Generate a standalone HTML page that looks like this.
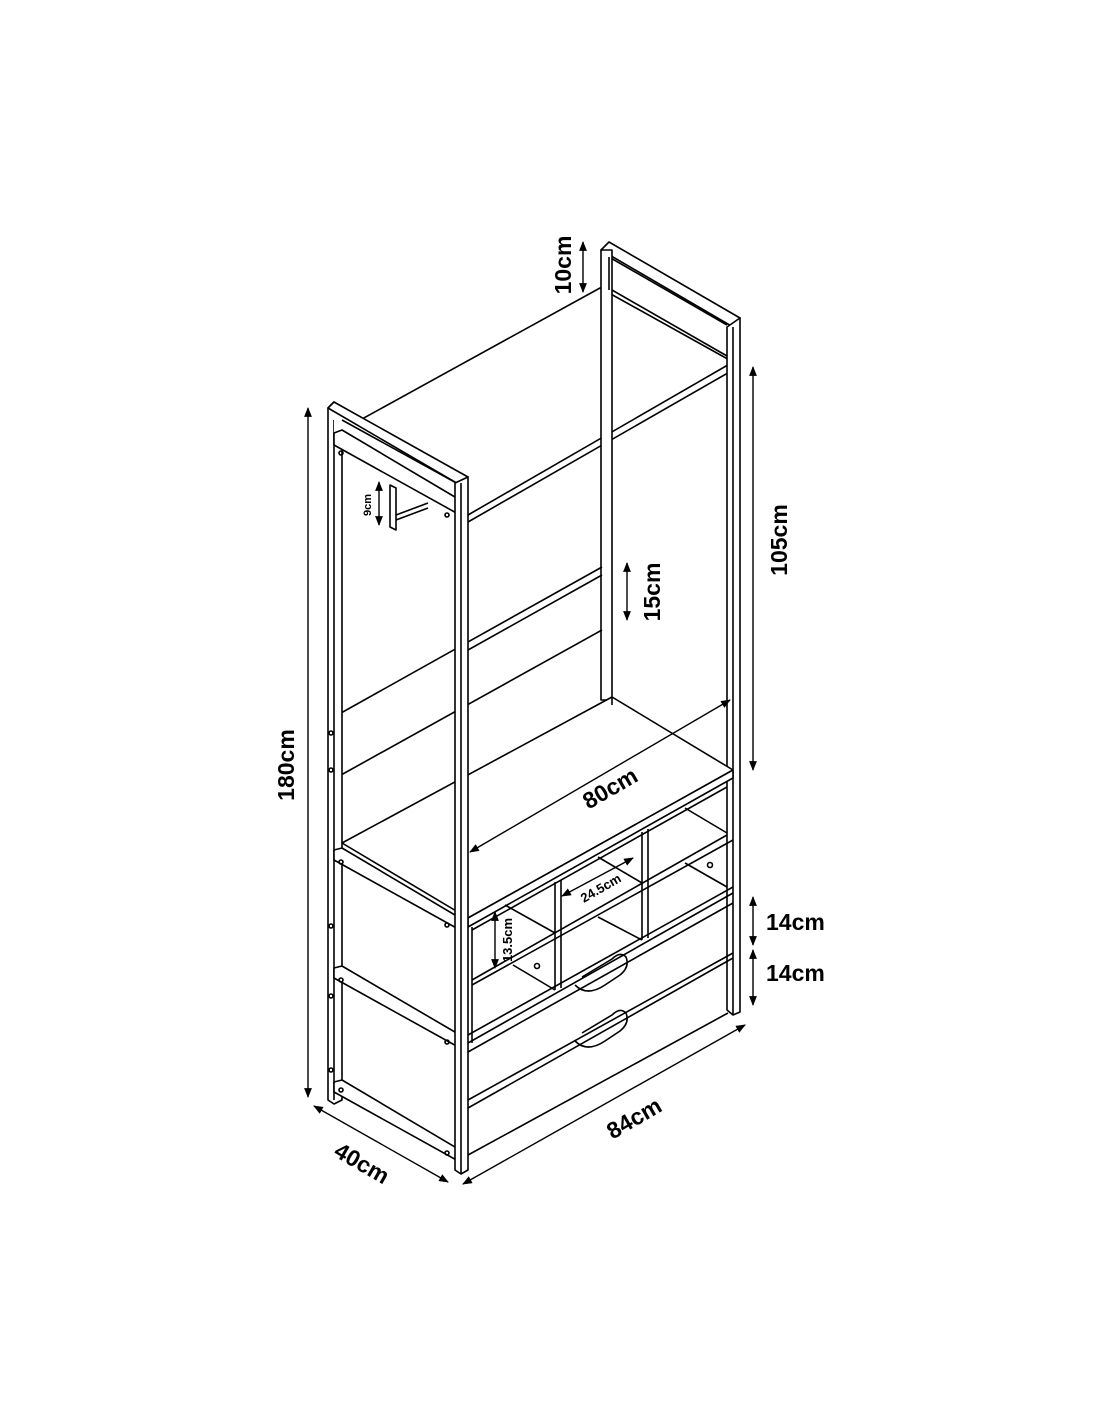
<!DOCTYPE html>
<html><head><style>
html,body{margin:0;padding:0;background:#fff;}
svg{display:block;}
text{font-family:"Liberation Sans",sans-serif;font-weight:bold;fill:#000;}
</style></head><body>
<svg width="1100" height="1422" viewBox="0 0 1100 1422" xmlns="http://www.w3.org/2000/svg">
<defs>
<marker id="a" viewBox="0 0 10 10" refX="9" refY="5" markerWidth="7" markerHeight="7" orient="auto-start-reverse"><path d="M0,1 L10,5 L0,9 z" fill="#000"/></marker>
</defs>
<g fill="none" stroke="#000" stroke-width="1.6" stroke-linejoin="round">
<!-- top shelf -->
<polygon points="342,430 600,288 733,362 468,515" fill="#fff"/>
<line x1="468" y1="522" x2="733" y2="370"/>
<!-- right top frame -->
<polygon points="601,250 609,242 740,318 733,327" />
<line x1="609" y1="257" x2="727" y2="325"/>
<line x1="612" y1="290" x2="727" y2="356"/>
<!-- back right post -->
<rect x="601" y="250" width="11" height="450" fill="#fff"/>
<line x1="609" y1="257" x2="609" y2="290"/>
<!-- front right post -->
<polygon points="727,327 740,318 740,1012 733,1015 727,1010" fill="#fff"/>
<line x1="733" y1="327" x2="733" y2="1015"/>
<!-- back board 15cm -->
<line x1="341" y1="713" x2="602" y2="567"/>
<line x1="341" y1="775" x2="602" y2="630"/>
<line x1="468" y1="650" x2="602" y2="575"/>
<!-- mid shelf -->
<polygon points="342,843 612,697 733,770 468,918" fill="#fff"/>
<polygon points="468,918 733,770 733,778 468,927" fill="#fff"/>
<line x1="612" y1="697" x2="612" y2="705"/>
<!-- cubby unit -->
<line x1="472" y1="927" x2="472" y2="1043"/>
<line x1="468" y1="1043" x2="733" y2="893"/>
<line x1="468" y1="1035" x2="733" y2="887"/>
<line x1="472" y1="985" x2="733" y2="840"/>
<line x1="472" y1="980" x2="727" y2="835"/>
<line x1="472" y1="930" x2="727" y2="787"/>
<line x1="555" y1="882" x2="555" y2="990"/>
<line x1="561" y1="880" x2="561" y2="988"/>
<line x1="642" y1="832" x2="642" y2="940"/>
<line x1="648" y1="829" x2="648" y2="938"/>
<line x1="505" y1="905" x2="555" y2="933"/>
<line x1="513" y1="965" x2="555" y2="990"/>
<line x1="598" y1="857" x2="642" y2="883"/>
<line x1="598" y1="917" x2="642" y2="940"/>
<line x1="685" y1="808" x2="727" y2="833"/>
<line x1="685" y1="863" x2="727" y2="887"/>
<circle cx="537" cy="966" r="2.5"/>
<circle cx="710" cy="865" r="2.5"/>
<!-- drawers -->
<line x1="468" y1="1052" x2="733" y2="903"/>
<line x1="468" y1="1100" x2="733" y2="953"/>
<line x1="468" y1="1108" x2="733" y2="958"/>
<line x1="468" y1="1155" x2="728" y2="1013"/>
<path d="M575,985 q12,12 30,0 l15,-10 q10,-8 6,-18 q-6,-6 -14,2 l-30,18" />
<path d="M575,1041 q12,12 30,0 l15,-10 q10,-8 6,-18 q-6,-6 -14,2 l-30,18" />
<!-- left back post -->
<polygon points="328,408 334,402 342,410 342,1100 334,1104 328,1100" fill="#fff"/>
<line x1="334" y1="420" x2="334" y2="1100"/>
<!-- left top frame -->
<polygon points="328,408 334,402 468,477 460,485 460,516 334,446 334,420" fill="#fff" stroke="none"/>
<polygon points="328,408 334,402 468,477 460,485" fill="#fff"/>
<line x1="342" y1="420" x2="460" y2="485"/>
<polygon points="334,433 342,430 460,500 460,515 334,445" fill="#fff"/>
<polygon points="334,850 342,848 460,918 460,930 334,860" fill="#fff"/>
<polygon points="334,968 342,966 460,1035 460,1048 334,978" fill="#fff"/>
<polygon points="334,1082 342,1080 460,1150 460,1162 334,1092" fill="#fff"/>
<!-- 9cm hook bracket -->
<polygon points="390,485 396,488 396,530 390,527" fill="#fff"/>
<line x1="396" y1="515" x2="428" y2="503"/>
<line x1="396" y1="520" x2="428" y2="508"/>
<!-- front left post -->
<polygon points="455,483 468,477 468,1170 461,1174 455,1170" fill="#fff"/>
<line x1="461" y1="483" x2="461" y2="1174"/>
<!-- screws -->
<circle cx="341" cy="453" r="2"/><circle cx="447" cy="515" r="2"/>
<circle cx="331" cy="733" r="2"/><circle cx="331" cy="770" r="2"/>
<circle cx="341" cy="862" r="2"/><circle cx="447" cy="925" r="2"/>
<circle cx="341" cy="980" r="2"/><circle cx="447" cy="1042" r="2"/>
<circle cx="331" cy="996" r="2"/><circle cx="331" cy="1070" r="2"/>
<circle cx="341" cy="1090" r="2"/><circle cx="447" cy="1153" r="2"/>
<circle cx="331" cy="926" r="2"/>
</g>
<!-- dimension lines -->
<g stroke="#000" stroke-width="1.4" fill="none">
<line x1="308" y1="408" x2="308" y2="1097" marker-start="url(#a)" marker-end="url(#a)"/>
<line x1="753" y1="367" x2="753" y2="770" marker-start="url(#a)" marker-end="url(#a)"/>
<line x1="583" y1="242" x2="583" y2="292" marker-start="url(#a)" marker-end="url(#a)"/>
<line x1="627" y1="563" x2="627" y2="620" marker-start="url(#a)" marker-end="url(#a)"/>
<line x1="379" y1="482" x2="379" y2="525" marker-start="url(#a)" marker-end="url(#a)"/>
<line x1="470" y1="852" x2="730" y2="700" marker-start="url(#a)" marker-end="url(#a)"/>
<line x1="562" y1="896" x2="633" y2="858" marker-start="url(#a)" marker-end="url(#a)"/>
<line x1="495" y1="912" x2="495" y2="968" marker-start="url(#a)" marker-end="url(#a)"/>
<line x1="753" y1="897" x2="753" y2="945" marker-start="url(#a)" marker-end="url(#a)"/>
<line x1="753" y1="950" x2="753" y2="1005" marker-start="url(#a)" marker-end="url(#a)"/>
<line x1="314" y1="1106" x2="448" y2="1182" marker-start="url(#a)" marker-end="url(#a)"/>
<line x1="463" y1="1184" x2="745" y2="1025" marker-start="url(#a)" marker-end="url(#a)"/>
</g>
<text font-size="23" transform="translate(294,765) rotate(-90)" text-anchor="middle">180cm</text>
<text font-size="23" transform="translate(787,540) rotate(-90)" text-anchor="middle">105cm</text>
<text font-size="23" transform="translate(571,265) rotate(-90)" text-anchor="middle">10cm</text>
<text font-size="23" transform="translate(660,592) rotate(-90)" text-anchor="middle">15cm</text>
<text font-size="11" font-weight="normal" transform="translate(371,505) rotate(-90)" text-anchor="middle">9cm</text>
<text font-size="23" transform="translate(614,795) rotate(-30)" text-anchor="middle">80cm</text>
<text font-size="13" font-weight="normal" transform="translate(603,892) rotate(-30)" text-anchor="middle">24.5cm</text>
<text font-size="13" font-weight="normal" transform="translate(512,940) rotate(-90)" text-anchor="middle">13.5cm</text>
<text font-size="23" x="766" y="930">14cm</text>
<text font-size="23" x="766" y="981">14cm</text>
<text font-size="23" transform="translate(358,1170) rotate(30)" text-anchor="middle">40cm</text>
<text font-size="23" transform="translate(638,1125) rotate(-30)" text-anchor="middle">84cm</text>
</svg>
</body></html>
